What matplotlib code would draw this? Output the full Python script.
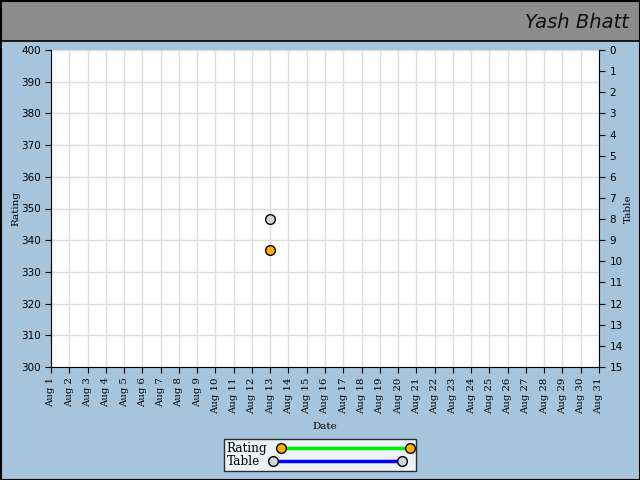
import matplotlib
matplotlib.use("Agg")
import matplotlib.pyplot as plt
from matplotlib.lines import Line2D
from matplotlib.patches import Rectangle
import datetime as dt
import matplotlib.dates as mdates

title = "Yash Bhatt"
days = [dt.date(2023, 8, d) for d in range(1, 32)]
tick_labels = [f"Aug {d}" for d in range(1, 32)]
point_dates = [dt.date(2023, 8, 13)]
rating_values = [337]
table_values = [8]

BG = "#a6c4dc"
fig = plt.figure(figsize=(6.4, 4.8), dpi=100, facecolor=BG)

# header band
fig.patches.append(Rectangle((0, 1 - 41/480), 1, 41/480, transform=fig.transFigure,
                             facecolor="#8c8c8c", edgecolor="none", zorder=0))
fig.lines.append(Line2D([0, 1], [1 - 41/480, 1 - 41/480], transform=fig.transFigure,
                        color="black", lw=1.2))
# outer border
fig.patches.append(Rectangle((0.5/640, 0.5/480), 1 - 1/640, 1 - 1/480, transform=fig.transFigure,
                             facecolor="none", edgecolor="black", lw=1.5, zorder=10))
fig.text(0.982, 1 - 22/480, title, ha="right", va="center", fontsize=14,
         family="DejaVu Sans", style="italic", fontweight="light", color="#111111")

ax = fig.add_axes([51/640, 113/480, 548/640, 317/480])
ax.set_facecolor("white")
ax.set_xlim(mdates.date2num(days[0]), mdates.date2num(days[-1]))
ax.set_ylim(300, 400)
ax.set_xticks(mdates.date2num(days))
ax.set_xticklabels(tick_labels, rotation=90, family="DejaVu Serif", fontsize=7.3)
ax.set_yticks(range(300, 401, 10))
ax.tick_params(axis="y", labelsize=7.5, length=4)
ax.tick_params(axis="x", length=4)
ax.grid(True, color="#dddddd", lw=1)
ax.set_axisbelow(True)
for s in ["top", "right"]:
    ax.spines[s].set_visible(False)
ax.set_xlabel("Date", family="DejaVu Serif", fontsize=7.5, labelpad=6)
ax.set_ylabel("Rating", family="DejaVu Serif", fontsize=7.5, labelpad=0)

ax2 = ax.twinx()
ax2.set_ylim(15, 0)
ax2.set_yticks(range(0, 16))
ax2.tick_params(axis="y", labelsize=7.5, length=4)
for s in ["top", "left", "bottom"]:
    ax2.spines[s].set_visible(False)
ax2.set_ylabel("Table", family="DejaVu Serif", fontsize=7.5, labelpad=1)

x = mdates.date2num(point_dates)
ax.plot(x, rating_values, color="#00ee00", lw=2, marker="o", ms=7,
        mfc="#ffb000", mec="black", mew=1, zorder=5)
ax2.plot(x, table_values, color="#0000ff", lw=2, marker="o", ms=7,
         mfc="#d3d3d3", mec="black", mew=1, zorder=5)

handles = [Line2D([], [], color="#00ee00", lw=2.5, marker="o", ms=7, mfc="#ffb000", mec="black", mew=1),
           Line2D([], [], color="#0000ff", lw=2.5, marker="o", ms=7, mfc="#d3d3d3", mec="black", mew=1)]
leg = fig.legend(handles, ["Rating", "Table"], loc="center", bbox_to_anchor=(320/640, 1 - 455/480),
                 numpoints=2, handlelength=11.3, handletextpad=0.8, borderpad=0.25, labelspacing=0.0,
                 borderaxespad=0,
                 prop={"family": "DejaVu Serif", "size": 8.7}, frameon=True, fancybox=False,
                 markerfirst=False)
leg.get_frame().set_edgecolor("black")
leg.get_frame().set_linewidth(1)
for col in leg._legend_handle_box.get_children():
    col.align = "left"

fig.savefig("out.png", dpi=100, facecolor=BG)
